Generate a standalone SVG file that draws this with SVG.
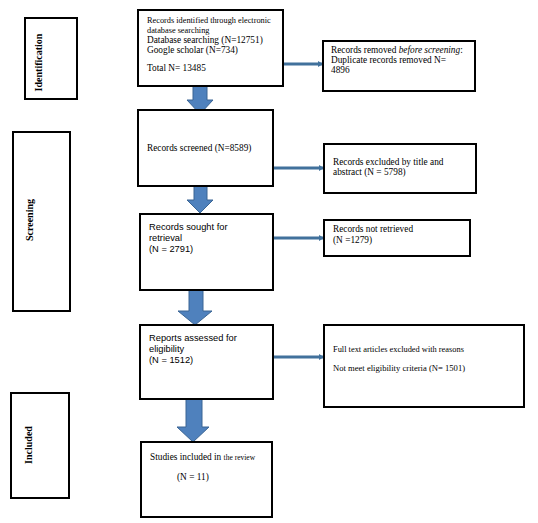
<svg xmlns="http://www.w3.org/2000/svg" width="538" height="523" viewBox="0 0 538 523">
<style>
.box{fill:#fff;stroke:#000;stroke-width:2}
.s{font-family:"Liberation Serif","Times New Roman",serif;font-size:9.3px;fill:#000}
.a{font-family:"Liberation Sans",Arial,sans-serif;font-size:9.3px;fill:#000}
.lbl{font-family:"Liberation Serif","Times New Roman",serif;font-size:10px;font-weight:bold;fill:#000;text-anchor:middle}
.blk{fill:#4F81BD;stroke:#3A6594;stroke-width:1}
.thin{stroke:#41719C;stroke-width:3;fill:none;marker-end:url(#ah)}
</style>
<defs>
<marker id="ah" markerWidth="6" markerHeight="6" refX="4" refY="3" orient="auto" markerUnits="userSpaceOnUse">
<path d="M0,0 L5,3 L0,6 Z" fill="#41719C"/>
</marker>
</defs>
<rect width="538" height="523" fill="#fff"/>

<g id="phase-identification">
<rect class="box" x="25" y="18" width="52" height="81"/>
<text class="lbl" transform="translate(41.5,62.5) rotate(-90)">Identification</text>
</g>
<g id="phase-screening">
<rect class="box" x="13" y="132" width="57" height="179"/>
<text class="lbl" transform="translate(32.5,220) rotate(-90)">Screening</text>
</g>
<g id="phase-included">
<rect class="box" x="11" y="393" width="58" height="105"/>
<text class="lbl" transform="translate(31.5,445) rotate(-90)">Included</text>
</g>

<g id="connectors">
<path class="blk" d="M193,86 H207 V100 H213 L200,114 L187,100 H193 Z"/>
<path class="blk" d="M194,186 H207 V200 H213 L200,213 L187,200 H194 Z"/>
<path class="blk" d="M189,290 H203 V311 H212 L195,325 L178,311 H189 Z"/>
<path class="blk" d="M186,399 H202 V427 H209 L193,442 L177,427 H186 Z"/>
<line class="thin" x1="283" y1="64" x2="322" y2="64"/>
<line class="thin" x1="273" y1="168" x2="323" y2="168"/>
<line class="thin" x1="273" y1="238" x2="323" y2="238"/>
<line class="thin" x1="273" y1="357" x2="323" y2="357"/>
</g>

<g id="identified">
<rect class="box" x="138" y="10" width="145" height="76"/>
<text class="s" x="147" y="23" style="font-size:8.3px">Records identified through electronic</text>
<text class="s" x="147" y="33" style="font-size:8.3px">database searching</text>
<text class="s" x="147" y="43">Database searching (N=12751)</text>
<text class="s" x="147" y="53">Google scholar (N=734)</text>
<text class="s" x="147" y="71">Total N= 13485</text>
</g>

<g id="removed">
<rect class="box" x="323" y="41" width="152" height="50"/>
<text class="s" x="331" y="53">Records removed <tspan font-style="italic">before screening</tspan>:</text>
<text class="s" x="331" y="63">Duplicate records removed N=</text>
<text class="s" x="331" y="73">4896</text>
</g>

<g id="screened">
<rect class="box" x="138" y="110" width="135" height="76"/>
<text class="s" x="147" y="151">Records screened (N=8589)</text>
</g>

<g id="excluded">
<rect class="box" x="324" y="144" width="152" height="49"/>
<text class="s" x="333" y="165">Records excluded by title and</text>
<text class="s" x="333" y="175">abstract (N = 5798)</text>
</g>

<g id="sought">
<rect class="box" x="140" y="214" width="133" height="76"/>
<text class="a" x="149" y="230">Records sought for</text>
<text class="a" x="149" y="241">retrieval</text>
<text class="a" x="149" y="252">(N = 2791)</text>
</g>

<g id="not-retrieved">
<rect class="box" x="324" y="220" width="146" height="36"/>
<text class="s" x="333" y="232">Records not retrieved</text>
<text class="s" x="333" y="243">(N =1279)</text>
</g>

<g id="assessed">
<rect class="box" x="140" y="325" width="133" height="74"/>
<text class="a" x="149" y="341">Reports assessed for</text>
<text class="a" x="149" y="352">eligibility</text>
<text class="a" x="149" y="363">(N = 1512)</text>
</g>

<g id="full-text-excluded">
<rect class="box" x="324" y="325" width="200" height="82"/>
<text class="s" x="333" y="352" style="font-size:8.4px">Full text articles excluded with reasons</text>
<text class="s" x="333" y="371" style="font-size:8.6px">Not meet eligibility criteria (N= 1501)</text>
</g>

<g id="included">
<rect class="box" x="141" y="442" width="131" height="75"/>
<text class="s" x="150" y="460">Studies included in <tspan style="font-size:7.5px">the review</tspan></text>
<text class="s" x="177" y="480">(N = 11)</text>
</g>
</svg>
